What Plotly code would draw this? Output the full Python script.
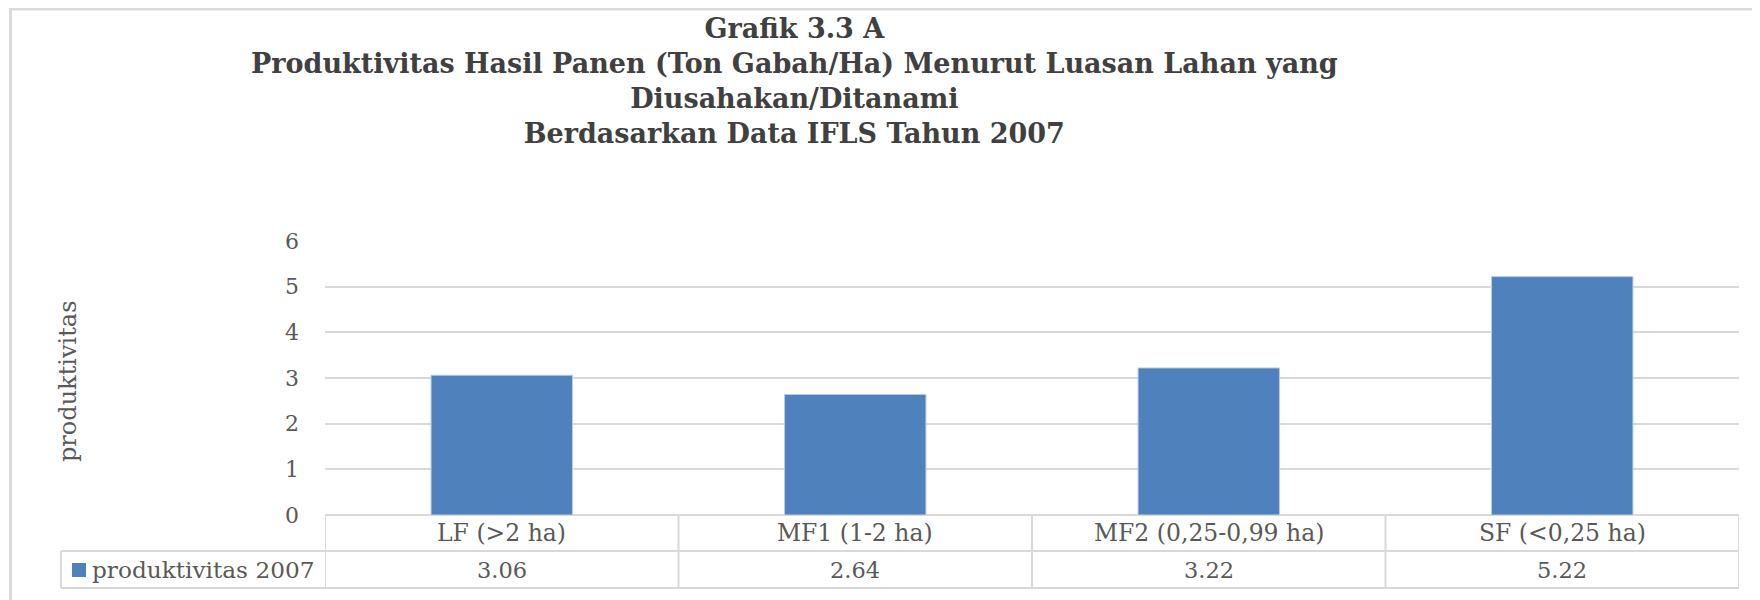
import plotly.graph_objects as go

categories = ["LF (>2 ha)", "MF1 (1-2 ha)", "MF2 (0,25-0,99 ha)", "SF (<0,25 ha)"]
values_2007 = [3.06, 2.64, 3.22, 5.22]
series_name = "produktivitas 2007"
y_title = "produktivitas"
y_ticks = [0, 1, 2, 3, 4, 5, 6]
title_lines = [
    "Grafik 3.3 A",
    "Produktivitas Hasil Panen (Ton Gabah/Ha) Menurut Luasan Lahan yang",
    "Diusahakan/Ditanami",
    "Berdasarkan Data IFLS Tahun 2007",
]

# page offset of the plot div (default body margin)
OFF = 8
W, H = 1760 - OFF, 600 - OFF
# plot area in page pixels
P_L, P_R, P_T, P_B = 325, 1739, 241, 515
L, T = P_L - OFF, P_T - OFF
R, B = W - (P_R - OFF), H - (P_B - OFF)
PW, PH = P_R - P_L, P_B - P_T
FONT = "DejaVu Serif"
GRID = "#d9d9d9"
TXT = "#595959"
BAR = "#4f81bd"

def py(px):  # page pixel y -> paper y
    return (P_B - px) / PH

def pxx(px):  # page pixel x -> paper x
    return (px - P_L) / PW

fig = go.Figure()
fig.add_trace(go.Bar(
    x=categories, y=values_2007, name=series_name,
    marker=dict(color=BAR, line=dict(color="#b8cce4", width=1)),
    width=0.4, showlegend=False,
))

shapes = []
n = len(categories)
row1_top, row1_bot, row2_bot = 515, 551, 588
for i in range(n + 1):
    shapes.append(dict(type="line", xref="x", yref="paper",
                       x0=i - 0.5, x1=i - 0.5, y0=py(row1_top), y1=py(row2_bot),
                       line=dict(color=GRID, width=2)))
for yy in (row1_bot, row2_bot):
    shapes.append(dict(type="line", xref="paper", yref="paper",
                       x0=pxx(61), x1=1, y0=py(yy), y1=py(yy),
                       line=dict(color=GRID, width=2)))
shapes.append(dict(type="line", xref="paper", yref="paper",
                   x0=pxx(61), x1=pxx(61), y0=py(row1_bot), y1=py(row2_bot),
                   line=dict(color=GRID, width=2)))
shapes.append(dict(type="rect", xref="paper", yref="paper",
                   x0=pxx(72), x1=pxx(86), y0=py(563), y1=py(577),
                   fillcolor=BAR, line=dict(width=0)))
# outer chart border (top and left)
shapes.append(dict(type="line", xref="paper", yref="paper",
                   x0=pxx(10), x1=pxx(1760), y0=py(OFF + 1), y1=py(OFF + 1),
                   line=dict(color=GRID, width=3)))
shapes.append(dict(type="line", xref="paper", yref="paper",
                   x0=pxx(10.5), x1=pxx(10.5), y0=py(OFF), y1=py(600),
                   line=dict(color=GRID, width=3)))

annotations = []
for i, (c, v) in enumerate(zip(categories, values_2007)):
    annotations.append(dict(x=i, xref="x", y=py((row1_top + row1_bot) / 2), yref="paper",
                            text=c, showarrow=False, xanchor="center", yanchor="middle",
                            font=dict(family=FONT, size=23.5, color=TXT)))
    annotations.append(dict(x=i, xref="x", y=py((row1_bot + row2_bot) / 2), yref="paper",
                            text=f"{v:.2f}", showarrow=False, xanchor="center", yanchor="middle",
                            font=dict(family=FONT, size=22.5, color=TXT)))
annotations.append(dict(x=pxx(90), xref="paper", y=py((row1_bot + row2_bot) / 2), yref="paper",
                        text=series_name, showarrow=False, xanchor="left", yanchor="middle",
                        font=dict(family=FONT, size=23.2, color=TXT)))
annotations.append(dict(x=pxx(68), xref="paper", y=py(382), yref="paper",
                        text=y_title, showarrow=False, textangle=-90,
                        xanchor="center", yanchor="middle",
                        font=dict(family=FONT, size=24, color=TXT)))
# chart title
annotations.append(dict(x=pxx(794), xref="paper", y=py(81), yref="paper",
                        text="<b>" + "<br>".join(title_lines) + "</b>", showarrow=False,
                        xanchor="center", yanchor="middle", align="center",
                        font=dict(family=FONT, size=27, color="#404040")))

fig.update_layout(
    width=W, height=H,
    margin=dict(l=L, r=R, t=T, b=B, pad=0),
    paper_bgcolor="white", plot_bgcolor="white",
    xaxis=dict(showticklabels=False, showgrid=False, zeroline=False, showline=False,
               range=[-0.5, n - 0.5]),
    yaxis=dict(range=[0, 6], tickvals=y_ticks, showgrid=True, gridcolor=GRID, gridwidth=2,
               zeroline=True, zerolinecolor=GRID, zerolinewidth=2, showline=False,
               ticks="", ticklabelstandoff=25,
               tickfont=dict(family=FONT, size=22, color=TXT)),
    shapes=shapes, annotations=annotations, bargap=0.6,
)

fig.write_html("out.html")
